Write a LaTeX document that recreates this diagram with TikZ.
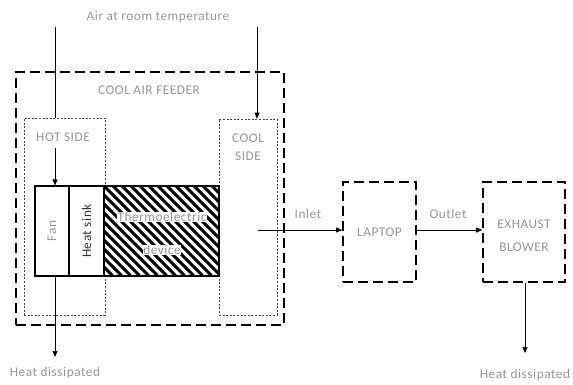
\documentclass[tikz,border=0pt]{standalone}
\usepackage{fontspec}
\setmainfont[LetterSpace=4]{Carlito}
\usetikzlibrary{arrows.meta,calc}
\definecolor{txt}{HTML}{959595}
\begin{document}
\begin{tikzpicture}[x=1pt,y=-1pt,
  lbl/.style={text=txt,font=\fontsize{13.3}{15}\selectfont,inner sep=1pt},
  bigdash/.style={draw,line width=1.6pt,dash pattern=on 10pt off 5pt,inner sep=0pt},
  smalldot/.style={draw,black!75,line width=0.6pt,dash pattern=on 2pt off 1.6pt,inner sep=0pt},
  solidbox/.style={draw,line width=1.1pt,inner sep=0pt},
  hatch/.style={line width=3pt},
  arr/.style={line width=0.7pt,-{Triangle[width=5pt,length=6pt]}},
  ln/.style={line width=0.7pt}]
\useasboundingbox (0,0) rectangle (573,384);
% boxes
\node[bigdash,minimum width=268pt,minimum height=253pt] (feeder) at (150,198.5) {};
\node[smalldot,minimum width=81pt,minimum height=197pt] (hot) at (64.5,216.5) {};
\node[smalldot,minimum width=58pt,minimum height=196pt] (cool) at (248,217) {};
\node[solidbox,fill=white,minimum width=34pt,minimum height=90pt] (fan) at (52,231) {};
\node[solidbox,fill=white,minimum width=35pt,minimum height=90pt] (sink) at (86.5,231) {};
\node[solidbox,fill=white,minimum width=115pt,minimum height=90pt] (te) at (161.5,231) {};
\begin{scope}
  \clip (te.south west) rectangle (te.north east);
  \foreach \i in {0,...,24} {
    \draw[hatch] ($(te.north west)+(\i*9-90,0)$) -- ++(90,90);
  }
\end{scope}
\draw[line width=1.1pt] (te.south west) rectangle (te.north east);
\node[bigdash,minimum width=73pt,minimum height=100pt] (laptop) at (379.5,232) {};
\node[bigdash,minimum width=82pt,minimum height=100pt] (blower) at (524,232) {};
% labels
\node[lbl] (air) at (158,17) {Air at room temperature};
\node[lbl] (feederlbl) at (149,90) {COOL AIR FEEDER};
\node[lbl] (hotlbl) at (63,137) {HOT SIDE};
\node[lbl,align=center] (coollbl) at (248,147.5) {COOL\\[3pt]SIDE};
\node[lbl,rotate=90] (fanlbl) at (fan) {Fan};
\node[lbl,rotate=90,text=black!80] (sinklbl) at (sink) {Heat sink};
\node[lbl,fill=white,inner sep=0.3pt] (telbl1) at (162,217) {Thermoelectric};
\node[lbl,fill=white,inner sep=0.3pt] (telbl2) at (162,250) {device};
\node[lbl] (laptoplbl) at (laptop) {LAPTOP};
\node[lbl,align=center] (blowerlbl) at (524,236) {EXHAUST\\[8pt]BLOWER};
\node[lbl] (inletlbl) at (308,214) {Inlet};
\node[lbl] (outletlbl) at (448,214) {Outlet};
\node[lbl] (heat1) at (55,373) {Heat dissipated};
\node[lbl] (heat2) at (525,375) {Heat dissipated};
% coordinates
\coordinate (tl) at (55,27);
\coordinate (tr) at (257,27);
\coordinate (inl) at (258,230);
\coordinate (h1) at (55,357);
\coordinate (h2) at (525,353);
% connectors
\draw[ln] (tl) -- (tl |- hot.north);
\draw[arr] ($(tl |- hotlbl.south)+(0,5)$) -- (tl |- fan.north);
\draw[arr] (tl |- fan.south) -- (h1);
\draw[arr] (tr) -- (tr |- cool.north);
\draw[arr] (inl) -- (inl -| laptop.west);
\draw[arr] (laptop.east |- inl) -- (inl -| blower.west);
\draw[arr] (h2 |- blower.south) -- (h2);
\end{tikzpicture}
\end{document}
